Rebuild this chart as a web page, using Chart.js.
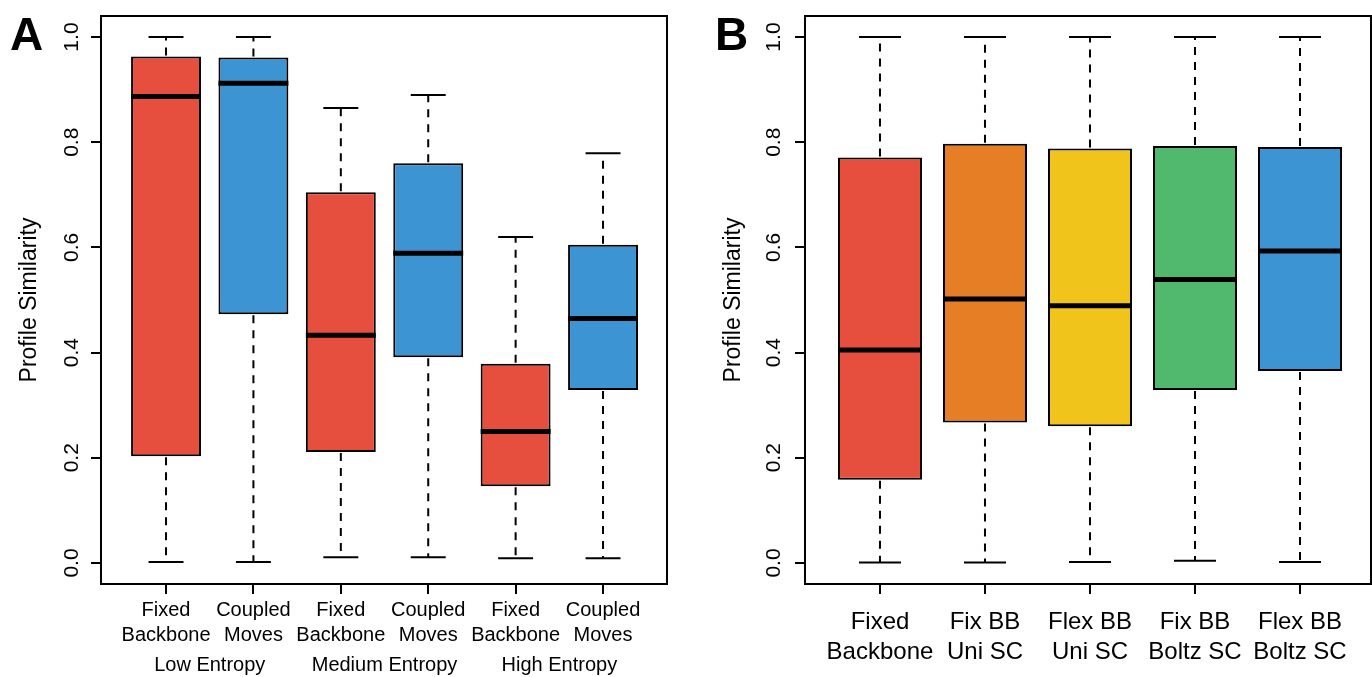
<!DOCTYPE html>
<html>
<head>
<meta charset="utf-8">
<script src="https://cdn.jsdelivr.net/npm/chart.js@4.4.1/dist/chart.umd.min.js"></script>
<style>
  html, body { margin: 0; padding: 0; background: #fff; }
  #wrap { position: relative; width: 1372px; height: 677px; overflow: hidden; }
  canvas { position: absolute; top: 0; }
  #chartA { left: 0; }
  #chartB { left: 686px; }
</style>
</head>
<body>
<div id="wrap">
  <canvas id="chartA" width="686" height="677"></canvas>
  <canvas id="chartB" width="686" height="677"></canvas>
</div>
<script>
// ---- data: panel A ----
const labelsA = [['Fixed', 'Backbone'], ['Coupled', 'Moves'], ['Fixed', 'Backbone'],
                 ['Coupled', 'Moves'], ['Fixed', 'Backbone'], ['Coupled', 'Moves']];
const groupsA = ['Low Entropy', 'Medium Entropy', 'High Entropy'];
const minA = [0.002, 0.002, 0.011, 0.011, 0.009, 0.009];
const q1A  = [0.203, 0.473, 0.211, 0.391, 0.146, 0.329];
const medA = [0.887, 0.912, 0.433, 0.589, 0.250, 0.465];
const q3A  = [0.963, 0.961, 0.705, 0.760, 0.379, 0.605];
const maxA = [1.000, 1.000, 0.865, 0.890, 0.620, 0.779];

// ---- data: panel B ----
const labelsB = [['Fixed', 'Backbone'], ['Fix BB', 'Uni SC'], ['Flex BB', 'Uni SC'],
                 ['Fix BB', 'Boltz SC'], ['Flex BB', 'Boltz SC']];
const minB = [0.001, 0.001, 0.002, 0.004, 0.002];
const q1B  = [0.158, 0.267, 0.260, 0.329, 0.365];
const medB = [0.405, 0.502, 0.489, 0.539, 0.593];
const q3B  = [0.771, 0.797, 0.788, 0.793, 0.791];
const maxB = [1.000, 1.000, 1.000, 1.000, 1.000];

const yTicks = [0.0, 0.2, 0.4, 0.6, 0.8, 1.0];

const RED = '#E64E3D', BLUE = '#3D94D2', ORANGE = '#E67E25', YELLOW = '#F0C41B', GREEN = '#50B96E';
const colorsA = [RED, BLUE, RED, BLUE, RED, BLUE];
const colorsB = [RED, ORANGE, YELLOW, GREEN, BLUE];

const FONT = '"Liberation Sans", Arial, Helvetica, sans-serif';

// whiskers, caps, medians, frame and R-style rotated y labels
const boxPlot = {
    id: 'boxPlot',
    afterDatasetsDraw(chart, args, opts) {
        const ctx = chart.ctx;
        const x = chart.scales.x, y = chart.scales.y;
        const meta = chart.getDatasetMeta(0);
        ctx.save();
        ctx.strokeStyle = '#000';
        meta.data.forEach(function(bar, i) {
            const cx = x.getPixelForValue(i);
            const half = bar.width / 2;
            const pMin = y.getPixelForValue(opts.min[i]);
            const pMax = y.getPixelForValue(opts.max[i]);
            const pQ1 = y.getPixelForValue(opts.q1[i]);
            const pQ3 = y.getPixelForValue(opts.q3[i]);
            const pMed = y.getPixelForValue(opts.med[i]);

            // dashed whiskers
            ctx.lineWidth = 2;
            ctx.setLineDash([8, 7]);
            ctx.beginPath();
            ctx.moveTo(cx, pQ3 - 1); ctx.lineTo(cx, pMax);
            ctx.moveTo(cx, pQ1 + 1); ctx.lineTo(cx, pMin);
            ctx.stroke();

            // caps
            ctx.setLineDash([]);
            ctx.beginPath();
            ctx.moveTo(cx - half / 2, pMax); ctx.lineTo(cx + half / 2, pMax);
            ctx.moveTo(cx - half / 2, pMin); ctx.lineTo(cx + half / 2, pMin);
            ctx.stroke();

            // median
            ctx.lineWidth = 5;
            ctx.beginPath();
            ctx.moveTo(cx - half, pMed); ctx.lineTo(cx + half, pMed);
            ctx.stroke();
        });
        ctx.restore();
    },
    afterDraw(chart, args, opts) {
        const ctx = chart.ctx;
        const a = chart.chartArea;
        const x = chart.scales.x, y = chart.scales.y;
        ctx.save();
        // frame round the plot
        ctx.strokeStyle = '#000';
        ctx.lineWidth = 2;
        ctx.strokeRect(a.left, a.top, a.right - a.left, a.bottom - a.top);

        // y tick labels, rotated like R
        ctx.fillStyle = '#000';
        ctx.font = '21px ' + FONT;
        ctx.textAlign = 'center';
        ctx.textBaseline = 'middle';
        yTicks.forEach(function(v) {
            ctx.save();
            ctx.translate(a.left - opts.yLabelOffset, y.getPixelForValue(v));
            ctx.rotate(-Math.PI / 2);
            ctx.fillText(v.toFixed(1), 0, 0);
            ctx.restore();
        });

        // group labels under pairs of boxes
        if (opts.groups) {
            ctx.font = '20px ' + FONT;
            opts.groups.forEach(function(g, k) {
                ctx.fillText(g, x.getPixelForValue(2 * k + 0.5), opts.groupY);
            });
        }

        // panel letter
        ctx.font = 'bold 46px ' + FONT;
        ctx.textAlign = 'left';
        ctx.textBaseline = 'alphabetic';
        ctx.fillText(opts.letter, opts.letterX, 50);
        ctx.restore();
    }
};

function makeBox(id, cfg) {
    new Chart(document.getElementById(id), {
        type: 'bar',
        data: {
            datasets: [{
                data: cfg.q1.map(function(q, i) { return { x: i, y: [q, cfg.q3[i]] }; }),
                backgroundColor: cfg.colors,
                borderColor: '#000',
                borderWidth: 2,
                borderSkipped: false,
                categoryPercentage: 1.0,
                barPercentage: 0.8
            }]
        },
        options: {
            responsive: false,
            animation: false,
            events: [],
            layout: { padding: { left: 0, top: 16, right: cfg.padRight, bottom: 0 } },
            plugins: {
                legend: { display: false },
                tooltip: { enabled: false },
                boxPlot: {
                    min: cfg.min, q1: cfg.q1, med: cfg.med, q3: cfg.q3, max: cfg.max,
                    groups: cfg.groups, groupY: 665,
                    yLabelOffset: cfg.yLabelOffset,
                    letter: cfg.letter, letterX: cfg.letterX
                }
            },
            scales: {
                x: {
                    type: 'linear',
                    offset: false,
                    min: cfg.xMin,
                    max: cfg.xMax,
                    afterBuildTicks: function(scale) {
                        scale.ticks = cfg.labels.map(function(l, i) { return { value: i }; });
                    },
                    afterFit: function(scale) { scale.height = 93; },
                    border: { display: false },
                    grid: { display: true, offset: false, drawOnChartArea: false, drawTicks: true,
                            tickLength: 10, color: '#000', lineWidth: 2 },
                    ticks: {
                        autoSkip: false,
                        maxRotation: 0,
                        padding: cfg.tickPad,
                        color: '#000',
                        font: { family: FONT, size: cfg.tickSize, lineHeight: 1.25 },
                        callback: function(value, index) { return cfg.labels[index]; }
                    }
                },
                y: {
                    min: -0.04,
                    max: 1.04,
                    afterBuildTicks: function(scale) {
                        scale.ticks = yTicks.map(function(v) { return { value: v }; });
                    },
                    afterFit: function(scale) { scale.width = cfg.yWidth; },
                    border: { display: false },
                    grid: { display: true, drawOnChartArea: false, drawTicks: true,
                            tickLength: 10, color: '#000', lineWidth: 2 },
                    ticks: { display: false },
                    title: {
                        display: true,
                        text: 'Profile Similarity',
                        color: '#000',
                        font: { family: FONT, size: 23 },
                        padding: { top: cfg.titlePad, bottom: 0 }
                    }
                }
            }
        },
        plugins: [boxPlot]
    });
}

makeBox('chartA', {
    labels: labelsA, groups: groupsA, colors: colorsA,
    min: minA, q1: q1A, med: medA, q3: q3A, max: maxA,
    xMin: -0.744, xMax: 5.732, padRight: 19, yWidth: 101,
    tickSize: 20, tickPad: 4, titlePad: 16, yLabelOffset: 29,
    letter: 'A', letterX: 10
});

makeBox('chartB', {
    labels: labelsB, groups: null, colors: colorsB,
    min: minB, q1: q1B, med: medB, q3: q3B, max: maxB,
    xMin: -0.714, xMax: 4.676, padRight: 1, yWidth: 119,
    tickSize: 24, tickPad: 13, titlePad: 34, yLabelOffset: 31,
    letter: 'B', letterX: 29
});
</script>
</body>
</html>
